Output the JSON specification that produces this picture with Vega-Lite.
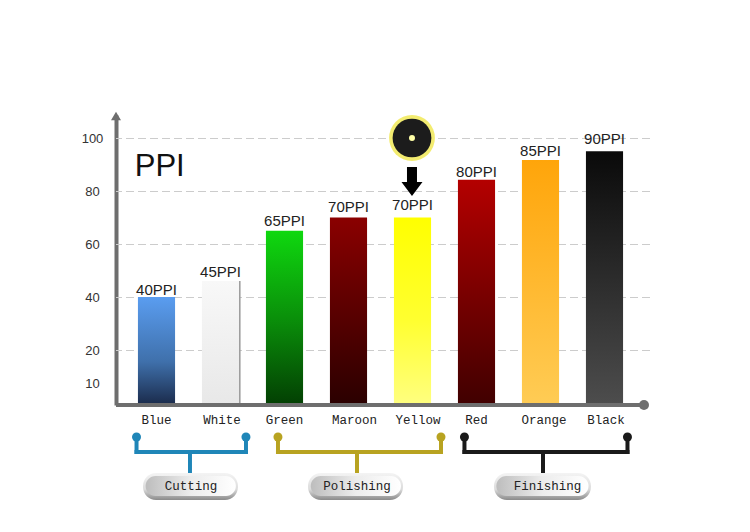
{"$schema":"https://vega.github.io/schema/vega-lite/v6.json","width":534,"height":290,"autosize":{"type":"none"},"padding":{"left":116,"top":115,"right":100,"bottom":127},"background":"white","config":{"view":{"stroke":null}},
"datasets":{"bars":[{"color":"Blue","height":40,"label":"40PPI"},{"color":"White","height":46,"label":"45PPI"},{"color":"Green","height":65,"label":"65PPI"},{"color":"Maroon","height":70,"label":"70PPI"},{"color":"Yellow","height":70,"label":"70PPI"},{"color":"Red","height":84.2,"label":"80PPI"},{"color":"Orange","height":91.7,"label":"85PPI"},{"color":"Black","height":95,"label":"90PPI"}],
"segments":[{"group":"Cutting","pos":0.188,"pos2":1.898,"d":47,"d2":47},{"group":"Cutting","pos":0.188,"pos2":0.188,"d":33,"d2":47},{"group":"Cutting","pos":1.898,"pos2":1.898,"d":33,"d2":47},{"group":"Cutting","pos":1.023,"pos2":1.023,"d":47,"d2":70},{"group":"Polishing","pos":2.398,"pos2":4.945,"d":47,"d2":47},{"group":"Polishing","pos":2.398,"pos2":2.398,"d":33,"d2":47},{"group":"Polishing","pos":4.945,"pos2":4.945,"d":33,"d2":47},{"group":"Polishing","pos":3.633,"pos2":3.633,"d":47,"d2":70},{"group":"Finishing","pos":5.312,"pos2":7.859,"d":47,"d2":47},{"group":"Finishing","pos":5.312,"pos2":5.312,"d":33,"d2":47},{"group":"Finishing","pos":7.859,"pos2":7.859,"d":33,"d2":47},{"group":"Finishing","pos":6.539,"pos2":6.539,"d":47,"d2":70}],
"dots":[{"group":"Cutting","pos":0.188,"d":32},{"group":"Cutting","pos":1.898,"d":32},{"group":"Polishing","pos":2.398,"d":32},{"group":"Polishing","pos":4.945,"d":32},{"group":"Finishing","pos":5.312,"d":32},{"group":"Finishing","pos":7.859,"d":32}],
"pills":[{"group":"Cutting","a":0.289,"b":1.773,"ia":0.33,"ib":1.74,"tx":1.04,"top":68,"bottom":95,"itop":71,"ibottom":91,"mid":81},{"group":"Polishing","a":2.867,"b":4.352,"ia":2.91,"ib":4.32,"tx":3.633,"top":68,"bottom":95,"itop":71,"ibottom":91,"mid":81},{"group":"Finishing","a":5.773,"b":7.289,"ia":5.81,"ib":7.25,"tx":6.609,"top":68,"bottom":95,"itop":71,"ibottom":91,"mid":81}],
"grid":[{"value":20},{"value":40},{"value":60},{"value":80},{"value":100}]},
"data":{"name":"bars"},
"layer":[
{"data":{"name":"grid"},"mark":{"type":"rule","color":"#cccccc","strokeWidth":1,"strokeDash":[8,4],"yOffset":0.5},"encoding":{"y":{"field":"value","type":"quantitative","scale":{"domain":[0,10,20,40,60,80,100,108.7],"range":[290,268,235,182,129,76,23,0]},"axis":null}}},
{"encoding":{"x":{"field":"color","type":"nominal","sort":null,"scale":{"domain":["Blue","White","Green","Maroon","Yellow","Red","Orange","Black"],"range":[8.5,520.5],"paddingInner":0.42,"paddingOuter":0.21},"axis":{"title":null,"domain":false,"ticks":false,"labelAngle":0,"labelFont":"Liberation Mono","labelFontSize":12.5,"labelColor":"#222222","labelPadding":8,"labelOffset":{"condition":[{"test":"datum.value=='Maroon'","value":6},{"test":"datum.value=='Yellow'","value":5.5},{"test":"datum.value=='Orange'","value":3.5},{"test":"datum.value=='White'||datum.value=='Black'","value":1.5}],"value":0}}},"y":{"field":"height","type":"quantitative","scale":{"domain":[0,10,20,40,60,80,100,108.7],"range":[290,268,235,182,129,76,23,0]},"axis":{"title":null,"values":[10,20,40,60,80,100],"domainColor":"#6e6e6e","domainWidth":4,"ticks":false,"labelFont":"Liberation Sans","labelFontSize":13,"labelColor":"#333333","labelAlign":"center","labelPadding":24,"grid":false}}},
"layer":[
{"transform":[{"filter":"datum.color=='White'"}],"mark":{"type":"bar","xOffset":1.5,"color":"#999999"}},
{"transform":[{"filter":"datum.color=='Blue'"}],"mark":{"type":"bar","color":{"gradient":"linear","x1":0,"y1":0,"x2":0,"y2":1,"stops":[{"offset":0,"color":"#5a9df0"},{"offset":0.6,"color":"#3f70ab"},{"offset":1,"color":"#1a2a4a"}]}}},
{"transform":[{"filter":"datum.color=='White'"}],"mark":{"type":"bar","color":{"gradient":"linear","x1":0,"y1":0,"x2":0,"y2":1,"stops":[{"offset":0,"color":"#f8f8f8"},{"offset":1,"color":"#e8e8e8"}]}}},
{"transform":[{"filter":"datum.color=='Green'"}],"mark":{"type":"bar","color":{"gradient":"linear","x1":0,"y1":0,"x2":0,"y2":1,"stops":[{"offset":0,"color":"#0fd80f"},{"offset":0.5,"color":"#0a900a"},{"offset":1,"color":"#033f03"}]}}},
{"transform":[{"filter":"datum.color=='Maroon'"}],"mark":{"type":"bar","color":{"gradient":"linear","x1":0,"y1":0,"x2":0,"y2":1,"stops":[{"offset":0,"color":"#8a0000"},{"offset":1,"color":"#2a0000"}]}}},
{"transform":[{"filter":"datum.color=='Yellow'"}],"mark":{"type":"bar","color":{"gradient":"linear","x1":0,"y1":0,"x2":0,"y2":1,"stops":[{"offset":0,"color":"#ffff00"},{"offset":0.55,"color":"#ffff30"},{"offset":1,"color":"#ffff80"}]}}},
{"transform":[{"filter":"datum.color=='Red'"}],"mark":{"type":"bar","color":{"gradient":"linear","x1":0,"y1":0,"x2":0,"y2":1,"stops":[{"offset":0,"color":"#b40000"},{"offset":1,"color":"#400000"}]}}},
{"transform":[{"filter":"datum.color=='Orange'"}],"mark":{"type":"bar","color":{"gradient":"linear","x1":0,"y1":0,"x2":0,"y2":1,"stops":[{"offset":0,"color":"#ffa50a"},{"offset":1,"color":"#ffcc55"}]}}},
{"transform":[{"filter":"datum.color=='Black'"}],"mark":{"type":"bar","color":{"gradient":"linear","x1":0,"y1":0,"x2":0,"y2":1,"stops":[{"offset":0,"color":"#0a0a0a"},{"offset":1,"color":"#4d4d4d"}]}}},
{"mark":{"type":"text","font":"Liberation Sans","fontSize":15,"color":"#222222","baseline":"alphabetic","dy":{"expr":"datum.color=='Blue'?-2:datum.color=='White'?-4.5:datum.color=='Green'?-5:datum.color=='Maroon'?-6:datum.color=='Yellow'?-8:datum.color=='Red'?-3:datum.color=='Orange'?-4:-7"}},"encoding":{"text":{"field":"label"}}}
]},
{"encoding":{"x":{"field":"pos","type":"quantitative","scale":{"domain":[-0.1328,8.211],"range":[0,534]},"axis":null},"y":{"field":"d","type":"quantitative","scale":{"domain":[-290,127],"range":[0,417]},"axis":null}},
"layer":[
{"data":{"values":[{"part":"x axis","pos":-0.1328,"pos2":8.117,"d":0}]},"mark":{"type":"rule","color":"#6e6e6e","strokeWidth":4},"encoding":{"x2":{"field":"pos2"}}},
{"data":{"values":[{"part":"x end","pos":8.117,"d":0}]},"mark":{"type":"point","shape":"circle","filled":true,"opacity":1,"size":100,"color":"#6e6e6e"}},
{"data":{"values":[{"part":"y arrow","pos":-0.1328,"d":-289}]},"mark":{"type":"point","shape":"triangle-up","filled":true,"opacity":1,"size":100,"color":"#6e6e6e"}},
{"data":{"values":[{"text":"PPI","pos":0.16,"d":-229}]},"mark":{"type":"text","font":"Liberation Sans","fontSize":31,"color":"#111111","align":"left","baseline":"alphabetic"},"encoding":{"text":{"field":"text"}}},
{"data":{"values":[{"part":"disc edge","pos":4.492,"d":-267}]},"mark":{"type":"point","shape":"circle","filled":true,"opacity":1,"size":2100,"color":"#f3ec70"}},
{"data":{"values":[{"part":"disc","pos":4.492,"d":-267}]},"mark":{"type":"point","shape":"circle","filled":true,"opacity":1,"size":1500,"color":"#1c1c1c"}},
{"data":{"values":[{"part":"hole","pos":4.492,"d":-267}]},"mark":{"type":"point","shape":"circle","filled":true,"opacity":1,"size":36,"color":"#ffffa8"}},
{"data":{"values":[{"part":"arrow","pos":4.492,"d":-223.5}]},"mark":{"type":"point","shape":"M-0.345,-1L0.345,-1L0.345,0.03L0.724,0.03L0,1L-0.724,0.03L-0.345,0.03Z","filled":true,"opacity":1,"size":841,"color":"#000000"}},
{"data":{"name":"segments"},"mark":{"type":"rule","strokeWidth":4,"strokeCap":"square"},"encoding":{"x2":{"field":"pos2"},"y2":{"field":"d2"},"color":{"field":"group","type":"nominal","legend":null,"scale":{"domain":["Cutting","Polishing","Finishing"],"range":["#1f86b8","#b8a321","#1a1a1a"]}}}},
{"data":{"name":"dots"},"mark":{"type":"point","shape":"circle","filled":true,"opacity":1,"size":81},"encoding":{"color":{"field":"group","type":"nominal","legend":null,"scale":{"domain":["Cutting","Polishing","Finishing"],"range":["#1f86b8","#b8a321","#1a1a1a"]}}}},
{"data":{"name":"pills"},"mark":{"type":"rect","cornerRadius":13,"color":{"gradient":"linear","x1":0,"y1":0,"x2":0,"y2":1,"stops":[{"offset":0,"color":"#f4f4f4"},{"offset":0.6,"color":"#dcdcdc"},{"offset":1,"color":"#8a8a8a"}]}},"encoding":{"x":{"field":"a","type":"quantitative"},"x2":{"field":"b"},"y":{"field":"top","type":"quantitative"},"y2":{"field":"bottom"}}},
{"data":{"name":"pills"},"mark":{"type":"rect","cornerRadius":10,"color":{"gradient":"linear","x1":0,"y1":0,"x2":1,"y2":0,"stops":[{"offset":0,"color":"#bdbdbd"},{"offset":0.5,"color":"#ececec"},{"offset":1,"color":"#ffffff"}]}},"encoding":{"x":{"field":"ia","type":"quantitative"},"x2":{"field":"ib"},"y":{"field":"itop","type":"quantitative"},"y2":{"field":"ibottom"}}},
{"data":{"name":"pills"},"mark":{"type":"text","font":"Liberation Mono","fontSize":12.5,"color":"#222222"},"encoding":{"x":{"field":"tx","type":"quantitative"},"y":{"field":"mid","type":"quantitative"},"text":{"field":"group"}}}
]}
],
"resolve":{"scale":{"x":"independent","y":"independent","color":"independent"}}}
